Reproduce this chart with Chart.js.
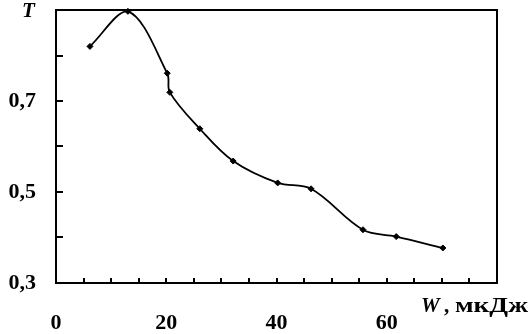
<!DOCTYPE html>
<html><head><meta charset="utf-8">
<script src="https://cdn.jsdelivr.net/npm/chart.js@4"></script>
<style>html,body{margin:0;padding:0;background:#fff;}#wrap{width:531px;height:334px;}</style>
</head><body><div id="wrap"><canvas id="c" width="531" height="334"></canvas></div>
<script>
const energyW = [6.16, 13.04, 20.18, 20.65, 26.09, 32.14, 40.22, 46.27, 55.69, 61.72, 70.18];
const transT  = [0.820, 0.897, 0.761, 0.719, 0.639, 0.568, 0.520, 0.507, 0.417, 0.402, 0.377];
const xTickLabels = {0:'0', 20:'20', 40:'40', 60:'60'};
const yTickLabels = {'0.3':'0,3', '0.5':'0,5', '0.7':'0,7'};
const xTitle = ['W', ',', 'мкДж'];
const yTitle = 'T';

const FONT = '"Liberation Serif", "Times New Roman", serif';

const frame = {
  id: 'frame',
  afterDraw(chart) {
    const {ctx, chartArea: a, scales} = chart;
    ctx.save();
    ctx.strokeStyle = '#000';
    ctx.lineWidth = 2;
    ctx.strokeRect(a.left, a.top, a.right - a.left, a.bottom - a.top);
    ctx.beginPath();
    scales.x.ticks.forEach(t => {
      if (t.value <= 0 || t.value >= 80) return;
      const px = Math.round(scales.x.getPixelForValue(t.value));
      ctx.moveTo(px, a.bottom); ctx.lineTo(px, a.bottom - 5);
    });
    scales.y.ticks.forEach(t => {
      if (t.value <= 0.3001 || t.value >= 0.8999) return;
      const py = Math.round(scales.y.getPixelForValue(t.value));
      ctx.moveTo(a.left, py); ctx.lineTo(a.left + 7, py);
    });
    ctx.stroke();
    ctx.fillStyle = '#000';
    ctx.textBaseline = 'alphabetic';
    ctx.textAlign = 'left';
    ctx.font = 'italic bold 21px ' + FONT;
    ctx.fillText(yTitle, 22, 17);
    ctx.fillText(xTitle[0], 421, 312);
    ctx.font = 'bold 21px ' + FONT;
    ctx.fillText(xTitle[1], 444, 312);
    // stretch the unit text to the reference width
    const w = ctx.measureText(xTitle[2]).width;
    ctx.translate(455, 312);
    ctx.scale(73 / w, 1);
    ctx.fillText(xTitle[2], 0, 0);
    ctx.restore();
  }
};

new Chart(document.getElementById('c'), {
  type: 'line',
  data: {
    datasets: [{
      data: energyW.map((x, i) => ({x, y: transT[i]})),
      borderColor: '#000',
      backgroundColor: '#000',
      borderWidth: 1.8,
      pointStyle: 'rectRot',
      pointRadius: 3,
      pointBorderWidth: 1,
      tension: 0.35,
      fill: false,
      clip: false
    }]
  },
  options: {
    responsive: false,
    animation: false,
    devicePixelRatio: 1,
    layout: {padding: {top: 10, right: 34, left: 0, bottom: 0}},
    plugins: {legend: {display: false}, tooltip: {enabled: false}},
    scales: {
      x: {
        type: 'linear', min: 0, max: 80,
        afterFit: s => { s.height = 51; s.paddingLeft = 0; s.paddingRight = 0; },
        grid: {display: false, drawTicks: false},
        border: {display: false},
        ticks: {
          stepSize: 5, autoSkip: false, maxRotation: 0, padding: 27,
          color: '#000',
          font: {family: FONT, size: 22, weight: 'bold'},
          callback: v => (xTickLabels[v] !== undefined ? xTickLabels[v] : '')
        }
      },
      y: {
        type: 'linear', min: 0.3, max: 0.9,
        afterFit: s => { s.width = 56; s.paddingTop = 0; s.paddingBottom = 0; },
        grid: {display: false, drawTicks: false},
        border: {display: false},
        ticks: {
          stepSize: 0.1, autoSkip: false, padding: 20,
          color: '#000',
          font: {family: FONT, size: 22, weight: 'bold'},
          callback: v => { const k = (Math.round(v * 10) / 10).toString(); return yTickLabels[k] || ''; }
        }
      }
    }
  },
  plugins: [frame]
});
</script></body></html>
